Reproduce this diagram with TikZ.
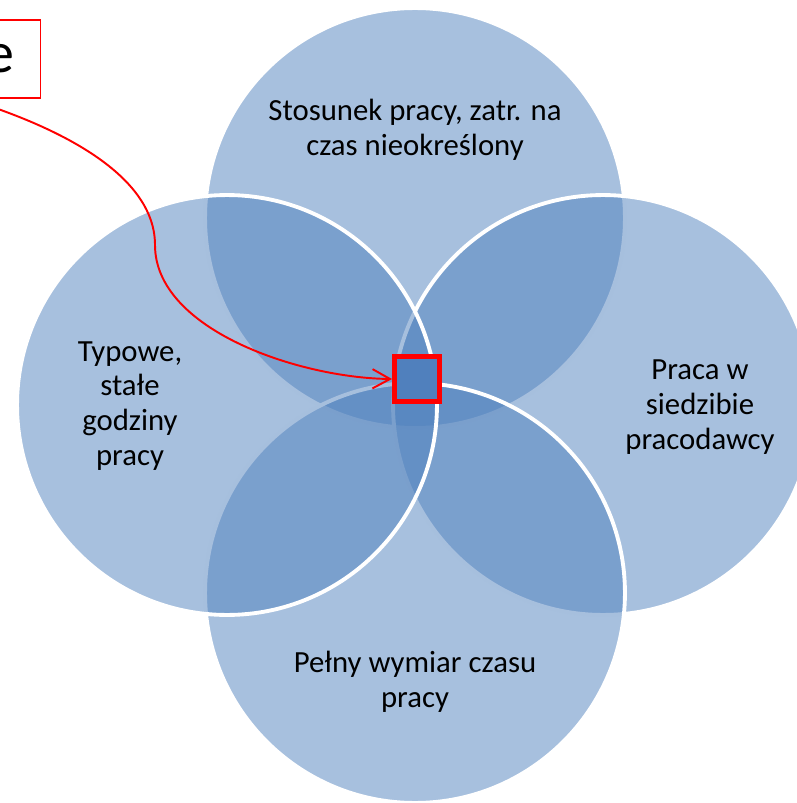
\documentclass[tikz,border=0pt]{standalone}
\usepackage{fontspec}
\setmainfont{Carlito}
\usetikzlibrary{positioning, arrows.meta}
\definecolor{vennblue}{RGB}{79,129,189}
\definecolor{centreblue}{RGB}{80,128,189}
\definecolor{calloutred}{RGB}{255,0,0}

\begin{document}
\begin{tikzpicture}[
        x=0.02cm, y=-0.02cm,
        venn/.style={circle, fill=vennblue, fill opacity=0.5, draw=white, draw opacity=1, line width=2.2pt, minimum size=8.4cm, inner sep=0pt},
        venntext/.style={font=\fontsize{17.5}{19.8}\selectfont, align=center, inner sep=0pt, text=black},
        callbox/.style={rectangle, draw=calloutred, line width=0.8pt, font=\fontsize{33}{38}\selectfont, text width=1.9cm, align=right, inner xsep=0.52cm, minimum height=1.56cm},
        centrebox/.style={rectangle, draw=calloutred, fill=centreblue, line width=2.8pt, minimum size=0.9cm, inner sep=0pt},
        callarrow/.style={-{Straight Barb[length=10pt, width=11pt]}, calloutred, line width=1.1pt},
    ]
    \useasboundingbox (0,0) rectangle (796,803);

    % ===== Venn circles =====
    \node[venn] (C_TOP) at (415,218) {};
    \node[venn] (C_RIGHT) at (603,405) {};
    \node[venn] (C_BOTTOM) at (415,593) {};
    \node[venn] (C_LEFT) at (227,405) {};

    % ===== Circle labels =====
    \node[venntext] (T_TOP) at (415,130) {Stosunek pracy, zatr. na\\czas nieokreślony};
    \node[venntext] (T_RIGHT) at (700,407) {Praca w\\siedzibie\\pracodawcy};
    \node[venntext] (T_BOTTOM) at (415,682) {Pełny wymiar czasu\\pracy};
    \node[venntext] (T_LEFT) at (130,406) {Typowe,\\stałe\\godziny\\pracy};

    % ===== Centre marker and callout =====
    \node[centrebox] (CENTRE) at (417,379) {};
    \node[callbox, anchor=east] (CALLOUT) at (41,59) {e};

    \draw[callarrow] (CALLOUT.south) .. controls (30,118) and (155,165) .. (155,245)
        .. controls (155,330) and (300,378) .. (CENTRE.west);

\end{tikzpicture}
\end{document}
